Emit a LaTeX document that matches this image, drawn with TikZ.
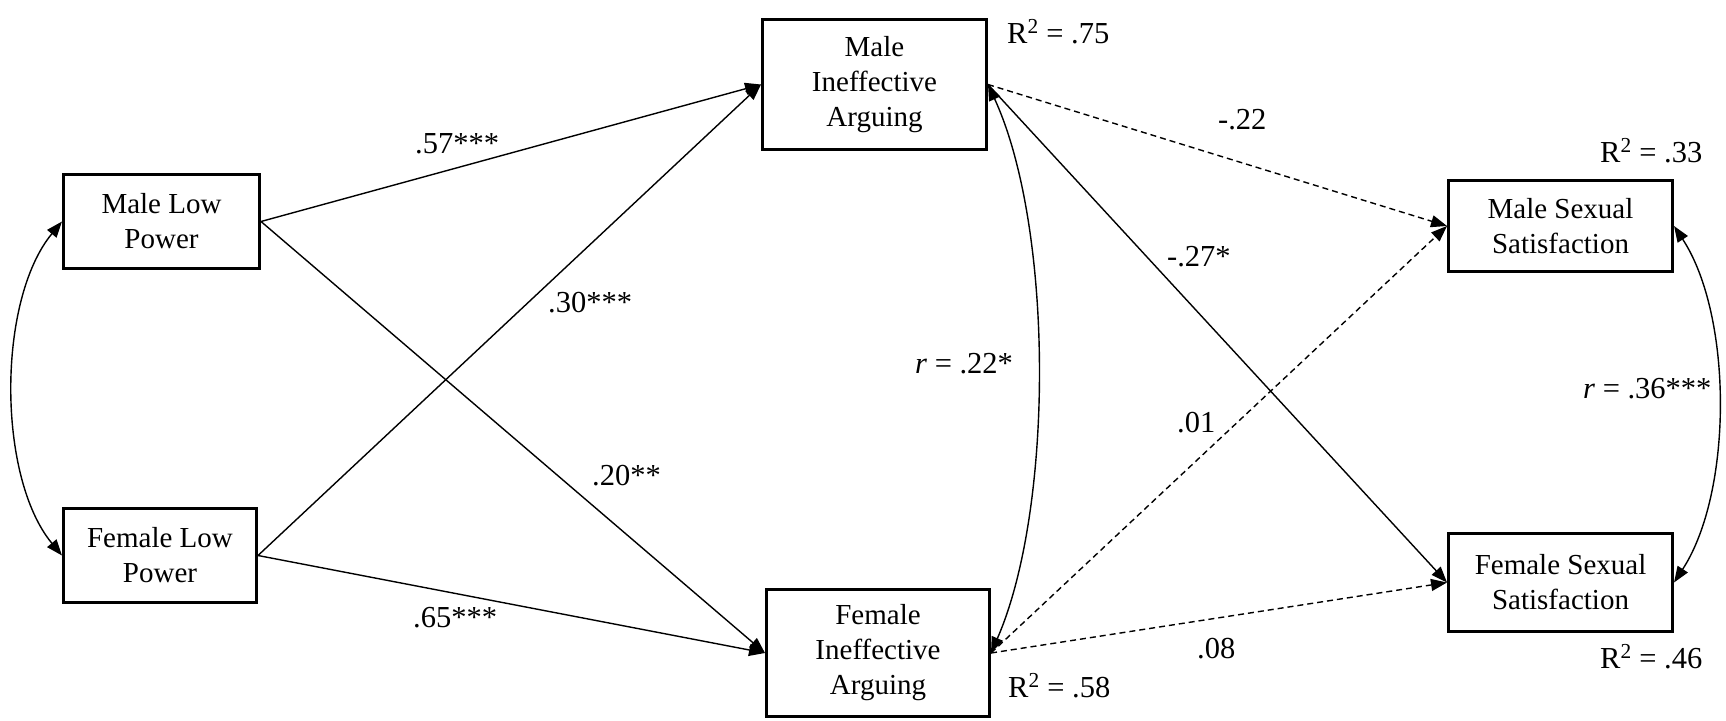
\documentclass[tikz,border=0pt]{standalone}
\usepackage{fontspec}
\setmainfont{Liberation Serif}
\usetikzlibrary{arrows.meta}
\begin{document}
\begin{tikzpicture}[x=1pt,y=-1pt,
  box/.style={draw, line width=3pt, align=center, inner sep=0pt, font=\fontsize{29}{35}\selectfont},
  lbl/.style={inner sep=0pt, anchor=base west, font=\fontsize{30.5}{33}\selectfont},
  tip/.style={-{Triangle[length=16pt,width=12pt]}},
  conn/.style={line width=1.4pt, tip},
  dconn/.style={conn, dash pattern=on 6pt off 4pt},
  corr/.style={line width=1.4pt, {Triangle[length=16pt,width=12pt]}-{Triangle[length=16pt,width=12pt]}}
]
\useasboundingbox (0,0) rectangle (1726,720);

% boxes
\node[box, minimum width=196pt, minimum height=94pt] (mlp) at (161.5,221.5) {Male Low\\Power};
\node[box, minimum width=193pt, minimum height=94pt] (flp) at (160,555.5) {Female Low\\Power};
\node[box, minimum width=224pt, minimum height=130pt] (mia) at (874.5,84.5) {Male\\Ineffective\\Arguing};
\node[box, minimum width=223pt, minimum height=127pt] (fia) at (878,653) {Female\\Ineffective\\Arguing};
\node[box, minimum width=224pt, minimum height=91pt] (mss) at (1560.5,226) {Male Sexual\\Satisfaction};
\node[box, minimum width=224pt, minimum height=98pt] (fss) at (1560.5,582.5) {Female Sexual\\Satisfaction};

% R squared labels
\node[lbl] (r2mia) at (1007,43) {R\textsuperscript{2} = .75};
\node[lbl] (r2fia) at (1008,697) {R\textsuperscript{2} = .58};
\node[lbl] (r2mss) at (1600,162) {R\textsuperscript{2} = .33};
\node[lbl] (r2fss) at (1600,668) {R\textsuperscript{2} = .46};

% path labels
\node[lbl] (l57) at (415,153) {.57***};
\node[lbl] (l30) at (548,312) {.30***};
\node[lbl] (l20) at (592,485) {.20**};
\node[lbl] (l65) at (413,627) {.65***};
\node[lbl] (l22n) at (1218,129) {-.22};
\node[lbl] (l27) at (1167,266) {-.27*};
\node[lbl] (lr22) at (915,373) {\textit{r} = .22*};
\node[lbl] (l01) at (1177,432) {.01};
\node[lbl] (l08) at (1197,658) {.08};
\node[lbl] (lr36) at (1583,398) {\textit{r} = .36***};

% connectors
\draw[conn] (mlp.east) -- (mia.west);
\draw[conn] (mlp.east) -- (fia.west);
\draw[conn] (flp.east) -- (mia.west);
\draw[conn] (flp.east) -- (fia.west);
\draw[dconn] (mia.east) -- (mss.west);
\draw[conn] (mia.east) -- (fss.west);
\draw[dconn] (fia.east) -- (mss.west);
\draw[dconn] (fia.east) -- (fss.west);

% correlations
\draw[corr] (mlp.west) .. controls (-3,300) and (-3,477) .. (flp.west);
\draw[corr] (mia.east) .. controls (1054,228) and (1054,509) .. (fia.east);
\draw[corr] (mss.east) .. controls (1733,316) and (1733,492) .. (fss.east);
\end{tikzpicture}
\end{document}
